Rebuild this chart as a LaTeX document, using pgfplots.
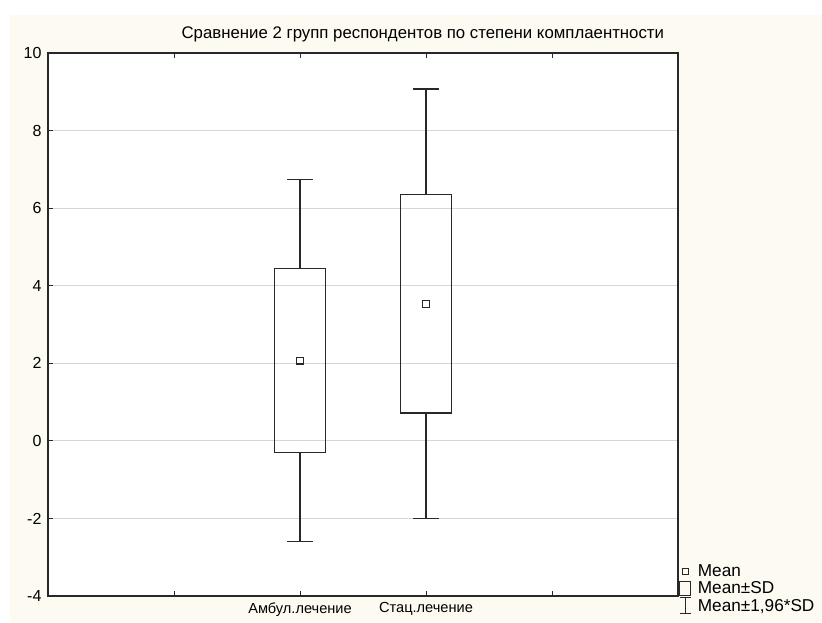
\documentclass[border=0pt]{standalone}
\usepackage{fontspec}
\setmainfont{Liberation Sans}
\usepackage{pgfplots}
\pgfplotsset{compat=1.18}
\usepgfplotslibrary{statistics}
\definecolor{bgcream}{RGB}{252,250,241}
\definecolor{gridgray}{RGB}{214,214,214}
\definecolor{linec}{RGB}{40,40,40}
\begin{document}
\begin{tikzpicture}[x=1pt,y=1pt]
\fill[white] (0,0) rectangle (822,622);
\fill[bgcream] (10,0) rectangle (822,607);
\begin{axis}[
  at={(48pt,26pt)}, anchor=south west,
  scale only axis, width=630pt, height=543pt,
  xmin=0, xmax=5, ymin=-4, ymax=10,
  xtick={1,2,3,4},
  xticklabels={,Амбул.лечение,Стац.лечение,},
  ytick={-4,-2,0,2,4,6,8,10},
  xtick pos=both, ytick pos=left,
  xticklabel pos=lower,
  tick align=inside, major tick length=5pt,
  ymajorgrids,
  grid style={gridgray, line width=0.8pt},
  axis line style={linec, line width=1.3pt},
  axis background/.style={fill=white},
  tick style={linec, line width=0.9pt},
  boxplot/draw direction=y,
  boxplot/every box/.style={draw=linec, line width=1.2pt},
  boxplot/every whisker/.style={draw=linec, line width=1.2pt},
  /pgf/number format/assume math mode=true,
  yticklabel style={font=\fontsize{16}{19}\selectfont, xshift=-3pt},
  xticklabel style={font=\fontsize{14.6}{17}\selectfont, yshift=-3pt},
  title={Сравнение 2 групп респондентов по степени комплаентности},
  title style={at={(axis description cs:0.595,1)}, anchor=base, yshift=8pt, font=\fontsize{16.8}{19}\selectfont},
  legend style={at={(axis description cs:1.0,0.013)}, anchor=west, draw=none, fill=none,
    font=\fontsize{17.2}{20}\selectfont, row sep=1.5pt, inner sep=1pt,
    nodes={inner sep=1pt}},
  legend cell align=left,
]
\addplot[linec, line width=1.2pt, forget plot,
  boxplot/draw/median/.code={},
  boxplot prepared={draw position=2, lower whisker=-2.60, lower quartile=-0.31,
    median=2.07, upper quartile=4.45, upper whisker=6.74,
    box extend=0.4, whisker extend=0.2}] coordinates {};
\addplot[linec, line width=1.2pt, forget plot,
  boxplot/draw/median/.code={},
  boxplot prepared={draw position=3, lower whisker=-2.00, lower quartile=0.72,
    median=3.535, upper quartile=6.35, upper whisker=9.07,
    box extend=0.4, whisker extend=0.2}] coordinates {};
\addplot[only marks, mark=square, mark size=3.4pt, draw=linec, mark options={line width=1.1pt, fill=white, draw=linec}, forget plot]
  coordinates {(2,2.07) (3,3.535)};
\addlegendimage{legend image code/.code={\draw[linec, line width=1pt] (3pt,-3pt) rectangle (9pt,3pt); \path (0pt,0pt) (15pt,0pt);}}
\addlegendentry{Mean}
\addlegendimage{legend image code/.code={\draw[linec, line width=1pt] (0pt,-7pt) rectangle (11pt,7pt); \path (15pt,0pt);}}
\addlegendentry{Mean±SD}
\addlegendimage{legend image code/.code={\draw[linec, line width=1pt] (0pt,8pt) -- (11pt,8pt) (5.5pt,8pt) -- (5.5pt,-8pt) (0pt,-8pt) -- (11pt,-8pt); \path (17pt,0pt);}}
\addlegendentry{Mean±1,96*SD}
\end{axis}
\end{tikzpicture}
\end{document}
